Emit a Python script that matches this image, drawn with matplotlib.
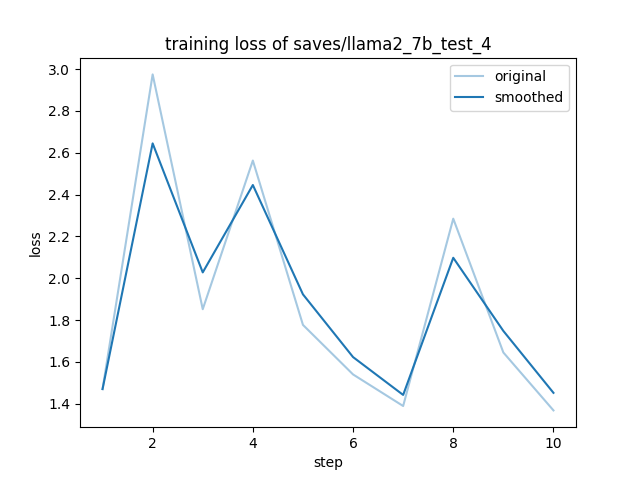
import matplotlib
matplotlib.use('Agg')
import matplotlib.pyplot as plt

steps = [1, 2, 3, 4, 5, 6, 7, 8, 9, 10]
original = [1.47, 2.975, 1.852, 2.563, 1.777, 1.540, 1.389, 2.285, 1.645, 1.368]
smoothed = [1.47, 2.645, 2.028, 2.446, 1.923, 1.623, 1.442, 2.098, 1.748, 1.452]

plt.figure(figsize=(6.4, 4.8), dpi=100)
plt.plot(steps, original, color='#1f77b4', alpha=0.4, label='original')
plt.plot(steps, smoothed, color='#1f77b4', label='smoothed')
plt.title('training loss of saves/llama2_7b_test_4')
plt.xlabel('step')
plt.ylabel('loss')
plt.legend()
plt.savefig('out.png')
